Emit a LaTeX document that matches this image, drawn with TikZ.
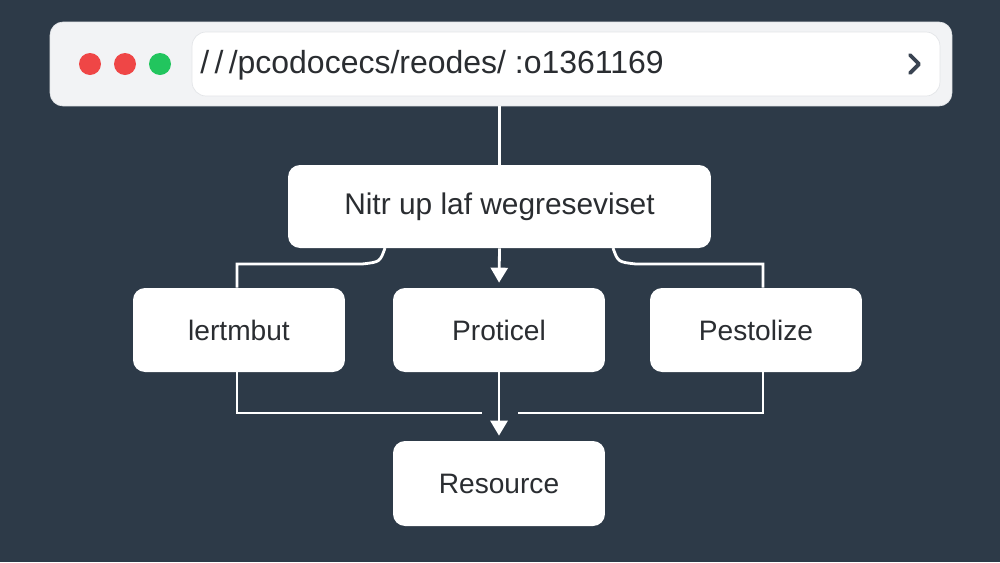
\documentclass[tikz,border=0pt]{standalone}
\usepackage{fontspec}
\setmainfont{Liberation Sans}
\usetikzlibrary{arrows.meta}

\definecolor{bgslate}{HTML}{2D3A48}
\definecolor{barfill}{HTML}{F2F3F5}
\definecolor{barline}{HTML}{E3E5E8}
\definecolor{inktext}{HTML}{2A2D31}
\definecolor{dotred}{HTML}{EF4646}
\definecolor{dotgreen}{HTML}{22C55E}
\definecolor{chev}{HTML}{3A4452}

\tikzset{
    card/.style={rectangle, fill=white, rounded corners=0.24cm, inner sep=0pt,
        text=inktext, font=\fontsize{16}{19}\selectfont,
        minimum width=4.24cm, minimum height=1.68cm},
    link/.style={draw=white, line width=1.6pt},
    flow/.style={link, -{Triangle[width=0.34cm,length=0.3cm]}, shorten >=0.1cm}
}

\begin{document}
\begin{tikzpicture}[x=0.02cm, y=-0.02cm]
        \fill[bgslate] (0,0) rectangle (1000,562);
        \useasboundingbox (0,0) rectangle (1000,562);

        % browser bar
        \node[rectangle, fill=barfill, draw=barline, rounded corners=0.26cm,
            minimum width=18.04cm, minimum height=1.68cm] (bar) at (501,64) {};
        \node[rectangle, fill=white, draw=barline, rounded corners=0.28cm,
            minimum width=14.96cm, minimum height=1.28cm] (url) at (566,64) {};
        \foreach \x/\c in {90/dotred,125/dotred,160/dotgreen} {
            \fill[\c] (\x,64) circle (0.22cm);
        }
        \node[anchor=west, inner sep=0pt, text=inktext,
            font=\fontsize{18.2}{22}\selectfont] (addr) at (200,65) {/\,/\,/pcodocecs/reodes/ :o1361169};
        \draw[chev, line width=2.2pt, line cap=round, line join=round]
            (910,55) -- (919,64) -- (910,73);

        % boxes
        \node[card, minimum width=8.46cm, minimum height=1.66cm,
            font=\fontsize{17}{20}\selectfont] (top) at (499.5,206.5) {Nitr up laf wegreseviset};
        \node[card] (left) at (239,330) {lertmbut};
        \node[card] (mid) at (499,330) {Proticel};
        \node[card] (right) at (756,330) {Pestolize};
        \node[card, minimum height=1.7cm] (res) at (499,483.5) {Resource};

        \coordinate (tl) at (385,248);
        \coordinate (tr) at (613,248);
        \coordinate (jl) at (482,413);
        \coordinate (jr) at (518,413);

        % connectors
        \draw[link] (top.north |- bar.south) -- (top.north);
        \draw[flow] (top.south) -- (mid.north);
        \draw[link] (tl) .. controls (380,262) .. (362,264) -| (left.north -| 237,0);
        \draw[link] (tr) .. controls (618,262) .. (636,264) -| (right.north -| 763,0);
        \draw[link] (left.south -| 237,0) |- (jl);
        \draw[link] (right.south -| 763,0) |- (jr);
        \draw[flow] (mid.south) -- (res.north);
    \end{tikzpicture}
\end{document}
